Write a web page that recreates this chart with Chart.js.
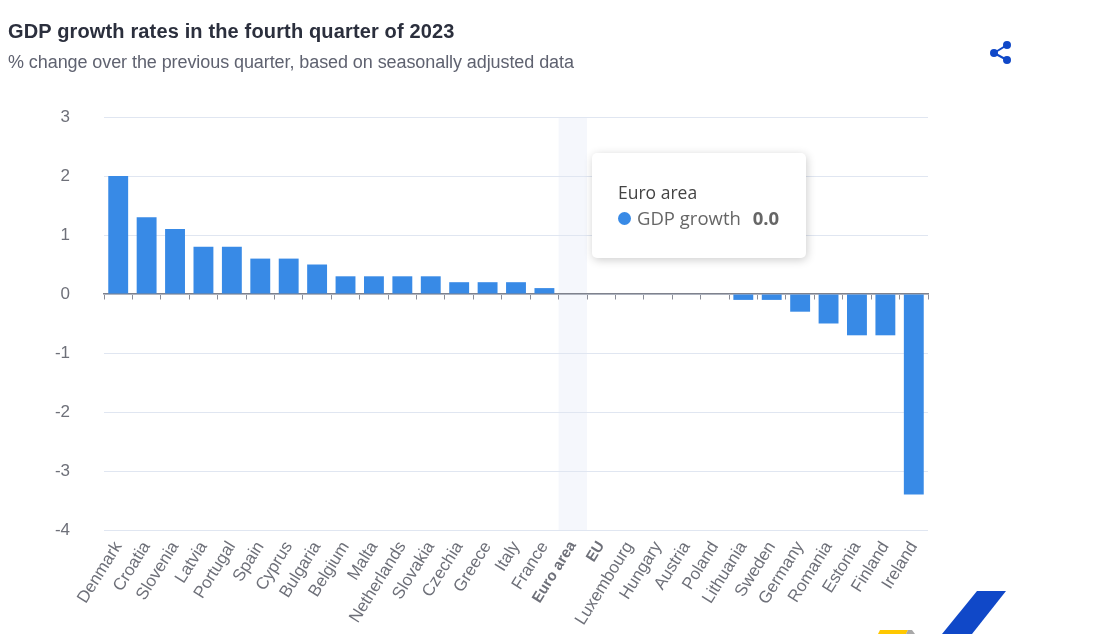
<!DOCTYPE html>
<html>
<head>
<meta charset="utf-8">
<title>GDP growth rates</title>
<script src="https://cdn.jsdelivr.net/npm/chart.js@4"></script>
<style>
body{margin:0;background:#fff;overflow:hidden;}
#wrap{position:relative;width:1111px;height:634px;font-family:"Liberation Sans",Arial,sans-serif;}
#myChart{position:absolute;left:0;top:0;}
.title{position:absolute;left:8px;top:20px;font-size:20px;font-weight:bold;color:#2b2f3d;letter-spacing:.15px;white-space:nowrap;}
.subtitle{position:absolute;left:8px;top:52px;font-size:18px;color:#5f6270;letter-spacing:-.08px;white-space:nowrap;}
.tip{position:absolute;left:592px;top:153px;width:214px;height:105px;background:#fff;border-radius:5px;box-shadow:1px 2px 10px rgba(0,0,0,.2);font-family:"Open Sans",sans-serif;font-size:18.5px;color:#666;}
.tip .name{position:absolute;left:26px;top:27px;color:#444;font-size:17.5px;}
.tip .row{position:absolute;left:26px;top:52px;white-space:nowrap;}
.tip i{display:inline-block;width:13px;height:13px;border-radius:50%;background:#388ae6;margin-right:6px;vertical-align:0;}
.tip b{margin-left:7px;}
svg{position:absolute;left:0;top:0;}
</style>
</head>
<body>
<div id="wrap">
<canvas id="myChart" width="1111" height="634"></canvas>
<div class="title">GDP growth rates in the fourth quarter of 2023</div>
<div class="subtitle">% change over the previous quarter, based on seasonally adjusted data</div>
<div class="tip">
  <div class="name">Euro area</div>
  <div class="row"><i></i>GDP growth <b>0.0</b></div>
</div>
<svg width="1111" height="634">
  <g stroke="#1048c8" stroke-width="2" fill="#1048c8">
    <line x1="1007" y1="45" x2="994" y2="53"/>
    <line x1="1007" y1="60" x2="994" y2="53"/>
    <circle cx="1007" cy="45" r="3"/>
    <circle cx="994" cy="53" r="3"/>
    <circle cx="1007" cy="60" r="3"/>
  </g>
  <polygon points="977,591 1006,591 972,634 942,634" fill="#1048c8"/>
  <polygon points="880,630 908,630 906,634 878,634" fill="#ffc800"/>
  <polygon points="908,630 912,630 915,634 906,634" fill="#a8a8a8"/>
</svg>
</div>
<script>
const categories=["Denmark","Croatia","Slovenia","Latvia","Portugal","Spain","Cyprus","Bulgaria","Belgium","Malta","Netherlands","Slovakia","Czechia","Greece","Italy","France","Euro area","EU","Luxembourg","Hungary","Austria","Poland","Lithuania","Sweden","Germany","Romania","Estonia","Finland","Ireland"];
const gdpGrowth=[2.0,1.3,1.1,0.8,0.8,0.6,0.6,0.5,0.3,0.3,0.3,0.3,0.2,0.2,0.2,0.1,0,0,0,0,0,0,-0.1,-0.1,-0.3,-0.5,-0.7,-0.7,-3.4];
const boldLabels=["Euro area","EU"];
const highlighted="Euro area";

// band behind the hovered category
const bandPlugin={
    id:"band",
    beforeDraw(chart){
        const x=chart.scales.x, area=chart.chartArea, ctx=chart.ctx;
        const step=x.width/categories.length;
        const left=x.getPixelForValue(categories.indexOf(highlighted))-step/2;
        ctx.save();
        ctx.fillStyle="#f5f7fc";
        ctx.fillRect(left,area.top,step,area.bottom-area.top);
        ctx.restore();
    }
};

new Chart(document.getElementById("myChart").getContext("2d"),{
    type:"bar",
    data:{
        labels:categories,
        datasets:[{
            label:"GDP growth",
            data:gdpGrowth,
            backgroundColor:"#388ae6",
            barPercentage:0.7,
            categoryPercentage:1
        }]
    },
    options:{
        responsive:false,
        animation:false,
        events:[],
        layout:{padding:{top:117,right:183}},
        plugins:{legend:{display:false},tooltip:{enabled:false}},
        scales:{
            x:{
                offset:true,
                grid:{display:false},
                border:{display:false},
                afterFit(scale){scale.height=104;},
                ticks:{
                    autoSkip:false,
                    minRotation:58,
                    maxRotation:58,
                    padding:0,
                    color:"#6e7079",
                    font:(c)=>({family:"Liberation Sans",size:boldLabels.includes(categories[c.index])?15:17,weight:boldLabels.includes(categories[c.index])?"bold":"normal"})
                }
            },
            zero:{
                type:"category",
                labels:categories,
                position:{y:0},
                offset:true,
                axis:"x",
                border:{color:"#7f828d",width:1.5},
                grid:{offset:true,drawOnChartArea:false,tickLength:5,tickColor:"#8a8d98"},
                ticks:{display:false}
            },
            y:{
                min:-4,
                max:3,
                border:{display:false},
                grid:{color:"#e0e6f1",drawTicks:false},
                afterFit(scale){scale.width=104;},
                ticks:{stepSize:1,padding:34,color:"#6e7079",font:{family:"Liberation Sans",size:17}}
            }
        }
    },
    plugins:[bandPlugin]
});
</script>
</body>
</html>
